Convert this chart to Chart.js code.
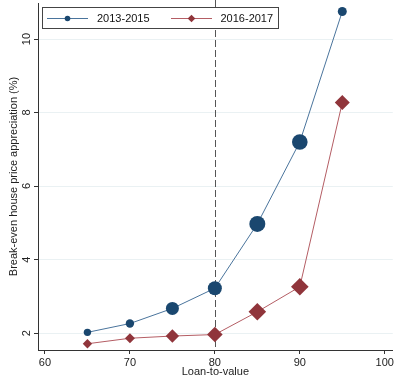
<!DOCTYPE html>
<html>
<head>
<meta charset="utf-8">
<script src="https://cdn.jsdelivr.net/npm/chart.js@4"></script>
<style>
html,body{margin:0;padding:0;background:#fff;}
</style>
</head>
<body>
<canvas id="chart" width="396" height="379"></canvas>
<script>
// =========================
// DATA
// =========================

const ltv = [65, 70, 75, 80, 85, 90, 95];
const be2013 = [2.02, 2.26, 2.67, 3.22, 4.97, 7.20, 10.75];
const be2016 = [1.71, 1.86, 1.92, 1.96, 2.58, 3.26, 8.27];
const seriesNames = ["2013-2015", "2016-2017"];
const xTicks = [60, 70, 80, 90, 100];
const yTicks = [2, 4, 6, 8, 10];
const cutoff = 80;

// marker sizes (weights)
const size2013 = [3.7, 4.2, 6.5, 7, 8, 7.8, 4.5];
const size2016 = [4.7, 5, 6.7, 7.8, 8.8, 8.8, 7.5];

const FONT = "'Liberation Sans', Arial, sans-serif";
const BLUE = "#1a476f";
const RED = "#90353b";

// =========================
// PLUGINS
// =========================

// dashed line at 80
const cutoffLine = {
  id: "cutoffLine",
  beforeDatasetsDraw(chart){
    const {ctx, chartArea, scales} = chart;
    const x = Math.round(scales.x.getPixelForValue(cutoff)) + 0.5;
    ctx.save();
    ctx.strokeStyle = "#555";
    ctx.lineWidth = 1;
    ctx.setLineDash([7, 3]);
    ctx.beginPath();
    ctx.moveTo(x, 0);
    ctx.lineTo(x, chartArea.bottom);
    ctx.stroke();
    ctx.restore();
  }
};

// rotated y tick labels (stata style)
const yLabels = {
  id: "yLabels",
  afterDraw(chart){
    const {ctx, scales} = chart;
    ctx.save();
    ctx.fillStyle = "#222";
    ctx.font = "11px " + FONT;
    ctx.textAlign = "center";
    ctx.textBaseline = "middle";
    scales.y.ticks.forEach(t => {
      const py = scales.y.getPixelForValue(t.value);
      ctx.save();
      ctx.translate(27, py);
      ctx.rotate(-Math.PI / 2);
      ctx.fillText(String(t.value), 0, 0);
      ctx.restore();
    });
    ctx.restore();
  }
};

// legend box inside the plot
const boxLegend = {
  id: "boxLegend",
  afterDraw(chart){
    const ctx = chart.ctx;
    ctx.save();
    ctx.fillStyle = "#fff";
    ctx.fillRect(42, 7, 236, 21);
    ctx.strokeStyle = "#444";
    ctx.lineWidth = 1;
    ctx.strokeRect(42.5, 7.5, 236, 21);

    const items = [
      {x0: 47, x1: 88, mx: 67.5, tx: 97},
      {x0: 171, x1: 212, mx: 191.5, tx: 220.5}
    ];
    const cy = 18;
    chart.data.datasets.forEach((ds, i) => {
      const it = items[i];
      ctx.strokeStyle = ds.borderColor;
      ctx.lineWidth = 1;
      ctx.beginPath();
      ctx.moveTo(it.x0, cy + 0.5);
      ctx.lineTo(it.x1, cy + 0.5);
      ctx.stroke();
      ctx.fillStyle = ds.pointBackgroundColor;
      ctx.beginPath();
      if(ds.pointStyle === "rectRot"){
        const r = 3.8;
        ctx.moveTo(it.mx, cy + 0.5 - r);
        ctx.lineTo(it.mx + r, cy + 0.5);
        ctx.lineTo(it.mx, cy + 0.5 + r);
        ctx.lineTo(it.mx - r, cy + 0.5);
        ctx.closePath();
      } else {
        ctx.arc(it.mx, cy + 0.5, 2.8, 0, Math.PI * 2);
      }
      ctx.fill();
      ctx.fillStyle = "#111";
      ctx.font = "11px " + FONT;
      ctx.textAlign = "left";
      ctx.textBaseline = "middle";
      ctx.fillText(ds.label, it.tx, cy + 0.5);
    });
    ctx.restore();
  }
};

// =========================
// CHART
// =========================

const ctx = document.getElementById("chart").getContext("2d");

new Chart(ctx, {
  type: "line",
  data: {
    datasets: [
      {
        label: seriesNames[0],
        data: ltv.map((x, i) => ({x: x, y: be2013[i]})),
        borderColor: "#4a749c",
        borderWidth: 1,
        pointBackgroundColor: BLUE,
        pointBorderWidth: 0,
        pointStyle: "circle",
        pointRadius: size2013,
        pointHoverRadius: size2013,
        tension: 0
      },
      {
        label: seriesNames[1],
        data: ltv.map((x, i) => ({x: x, y: be2016[i]})),
        borderColor: "#b45d64",
        borderWidth: 1,
        pointBackgroundColor: RED,
        pointBorderWidth: 0,
        pointStyle: "rectRot",
        pointRadius: size2016,
        pointHoverRadius: size2016,
        tension: 0
      }
    ]
  },
  options: {
    responsive: false,
    animation: false,
    devicePixelRatio: 1,
    layout: {autoPadding: false, padding: {top: 3, right: 3, left: 0, bottom: 0}},
    plugins: {
      legend: {display: false},
      tooltip: {enabled: false}
    },
    scales: {
      x: {
        type: "linear",
        min: 59.18,
        max: 100.94,
        afterBuildTicks: s => { s.ticks = xTicks.map(v => ({value: v})); },
        afterFit: s => { s.height = 29; },
        grid: {drawOnChartArea: false, tickLength: 4, tickColor: "#333"},
        border: {color: "#333", width: 1},
        ticks: {
          font: {size: 11, family: FONT},
          color: "#222",
          padding: 2,
          maxRotation: 0,
          includeBounds: false
        },
        title: {
          display: true,
          text: "Loan-to-value",
          font: {size: 11, family: FONT},
          color: "#222",
          padding: {top: 0, bottom: 0.5}
        }
      },
      y: {
        min: 1.54,
        max: 10.98,
        afterBuildTicks: s => { s.ticks = yTicks.map(v => ({value: v})); },
        afterFit: s => { s.width = 38; },
        grid: {color: "#eaf1f3", tickLength: 4, tickColor: "#333"},
        border: {color: "#333", width: 1},
        ticks: {display: false, includeBounds: false},
        title: {
          display: true,
          text: "Break-even house price appreciation (%)",
          font: {size: 11, family: FONT},
          color: "#222",
          padding: {top: 7, bottom: 0}
        }
      }
    }
  },
  plugins: [cutoffLine, yLabels, boxLegend]
});
</script>
</body>
</html>
